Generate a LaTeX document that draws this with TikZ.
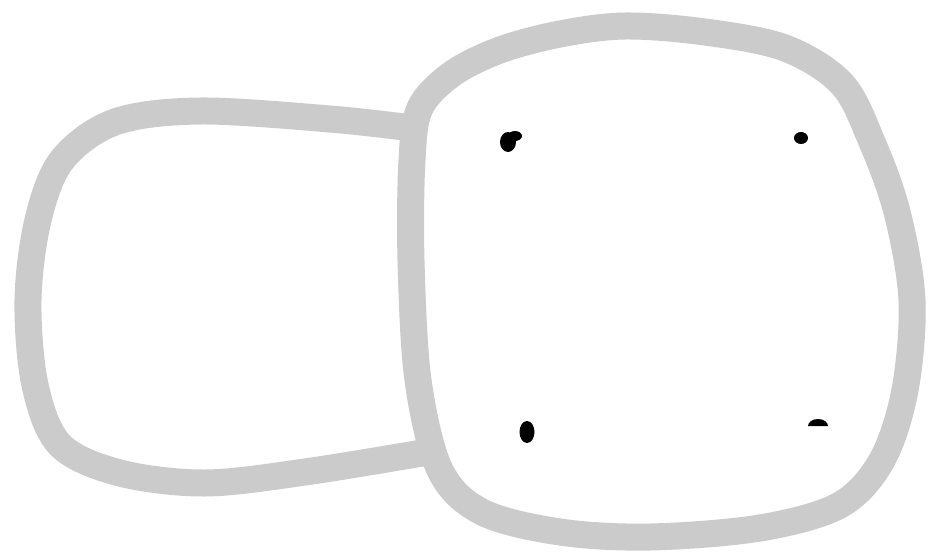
\documentclass[tikz,border=0pt]{standalone}
\definecolor{outline}{RGB}{203,203,203}
\begin{document}
\begin{tikzpicture}[x=1pt,y=-1pt,
  wall/.style={draw=outline,line width=27pt,line join=round,line cap=round},
  spot/.style={fill=black}]
\useasboundingbox[fill=white] (0,0) rectangle (930,560);
% left shape (open, joining the right shape)
\draw[wall] plot[smooth,tension=0.55] coordinates {(412,128) (330,119) (200,111) (115,122) (62,160) (38,220) (28,300) (35,385) (60,445) (120,473) (205,483) (305,472) (428,452)};
% right shape
\draw[wall] plot[smooth cycle,tension=0.55] coordinates {(418,380) (411,260) (412,160) (420,108) (452,74) (500,50) (560,34) (625,26) (705,32) (785,48) (842,84) (872,142) (897,212) (912,300) (905,390) (882,460) (840,505) (760,528) (650,537) (560,532) (482,512) (440,470)};
% dots
\fill[spot] (508,142) ellipse (8pt and 10pt);
\fill[spot] (515,136) ellipse (7pt and 5pt);
\fill[spot] (801,138) ellipse (7pt and 6pt);
\fill[spot] (527,432) ellipse (7.5pt and 11pt);
\fill[spot] (808,426) arc[start angle=180,end angle=0,x radius=10pt,y radius=7pt] -- cycle;
\end{tikzpicture}
\end{document}
